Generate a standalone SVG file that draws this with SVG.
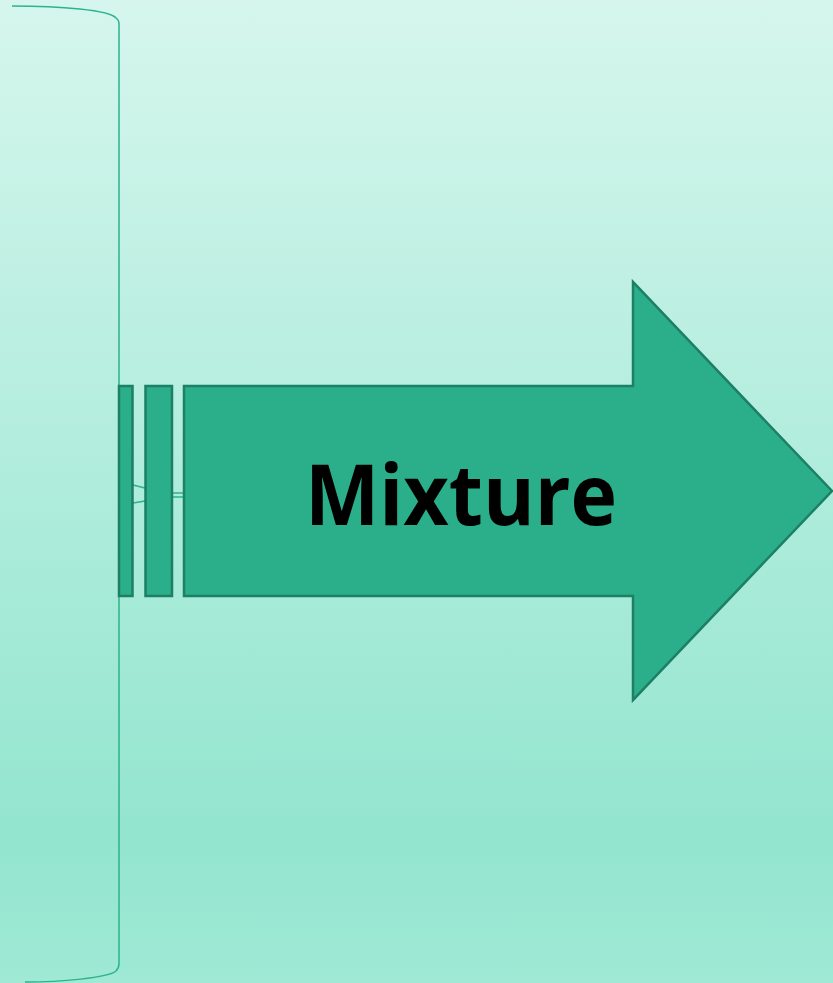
<svg xmlns="http://www.w3.org/2000/svg" width="833" height="983" viewBox="0 0 833 983">
<defs>
<linearGradient id="bg" x1="0" y1="0" x2="0" y2="1">
<stop offset="0" stop-color="#d6f6ed"/>
<stop offset="0.85" stop-color="#93e5cf"/>
<stop offset="1" stop-color="#9fe9d5"/>
</linearGradient>
<style>
.shape{fill:#2aaf8a;stroke:#1d7f65;stroke-width:2.5}
.line{fill:none;stroke:#2bb38c;stroke-width:1.5}
.label{font-family:"Open Sans","Liberation Sans",sans-serif;font-weight:bold;font-size:85px;fill:#000}
</style>
</defs>
<rect width="833" height="983" fill="url(#bg)"/>
<g id="bracket">
<path class="line" d="M12,6 C60,6 110,10 116,18 Q119,20 119,24 L119,964 Q119,968 116,971 C108,978 60,982 25,982"/>
</g>
<g id="connectors">
<path class="line" d="M133,485 L145,488 M133,503 L145,501 M172,493 L184,493 M172,497 L184,497"/>
</g>
<g id="bar1"><rect class="shape" x="119" y="386" width="13.5" height="210"/></g>
<g id="bar2"><rect class="shape" x="145.5" y="386" width="26.5" height="210"/></g>
<g id="arrow">
<polygon class="shape" points="184,386 633,386 633,282 832,491 633,700 633,596 184,596"/>
<text class="label" x="305" y="525" textLength="312" lengthAdjust="spacingAndGlyphs">Mixture</text>
</g>
</svg>
